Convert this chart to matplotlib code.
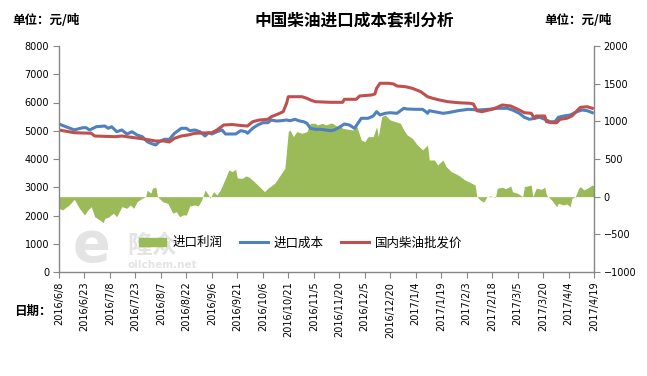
import matplotlib
matplotlib.use('Agg')
import matplotlib.pyplot as plt
import pandas as pd
from matplotlib.patches import Patch
from matplotlib.lines import Line2D

plt.rcParams['font.family'] = ['Noto Sans CJK SC', 'DejaVu Sans']

# 进口成本 (left axis, 元/吨)
cost_dates = ['2016-06-08', '2016-06-12', '2016-06-17', '2016-06-22', '2016-06-24', '2016-06-26',
              '2016-06-30', '2016-07-05', '2016-07-07', '2016-07-09', '2016-07-12', '2016-07-15',
              '2016-07-18', '2016-07-21', '2016-07-24', '2016-07-27', '2016-07-30', '2016-08-01',
              '2016-08-04', '2016-08-06', '2016-08-09', '2016-08-12', '2016-08-15', '2016-08-19',
              '2016-08-22', '2016-08-24', '2016-08-27', '2016-08-30', '2016-09-02', '2016-09-04',
              '2016-09-06', '2016-09-09', '2016-09-12', '2016-09-14', '2016-09-17', '2016-09-20',
              '2016-09-23', '2016-09-26', '2016-09-27', '2016-09-30', '2016-10-03', '2016-10-06',
              '2016-10-09', '2016-10-11', '2016-10-14', '2016-10-17', '2016-10-20', '2016-10-22',
              '2016-10-25', '2016-10-27', '2016-10-30', '2016-11-01', '2016-11-03', '2016-11-06',
              '2016-11-09', '2016-11-12', '2016-11-15', '2016-11-17', '2016-11-20', '2016-11-23',
              '2016-11-26', '2016-11-29', '2016-12-01', '2016-12-03', '2016-12-07', '2016-12-10',
              '2016-12-12', '2016-12-14', '2016-12-17', '2016-12-20', '2016-12-24', '2016-12-28',
              '2016-12-30', '2017-01-04', '2017-01-08', '2017-01-10', '2017-01-11', '2017-01-12',
              '2017-01-15', '2017-01-20', '2017-01-23', '2017-01-29', '2017-02-04', '2017-02-10',
              '2017-02-16', '2017-02-21', '2017-02-27', '2017-03-02', '2017-03-06', '2017-03-09',
              '2017-03-12', '2017-03-15', '2017-03-18', '2017-03-21', '2017-03-24', '2017-03-27',
              '2017-03-29', '2017-04-01', '2017-04-05', '2017-04-09', '2017-04-12', '2017-04-15',
              '2017-04-18']
cost_vals = [5239, 5143, 5030, 5108, 5108, 5027,
             5143, 5168, 5087, 5143, 4966, 5027,
             4885, 4966, 4850, 4790, 4612, 4556,
             4496, 4612, 4697, 4697, 4910, 5087,
             5087, 5002, 5027, 4966, 4814, 4931,
             4885, 4966, 5027, 4885, 4885, 4885,
             5002, 4966, 4910, 5087, 5204, 5285,
             5285, 5381, 5345, 5356, 5381, 5356,
             5405, 5356, 5320, 5264, 5087, 5051,
             5051, 5027, 5002, 5027, 5122, 5239,
             5204, 5087, 5264, 5441, 5441, 5522,
             5675, 5558, 5618, 5639, 5618, 5795,
             5770, 5759, 5759, 5675, 5618, 5710,
             5675, 5618, 5639, 5710, 5759, 5735,
             5759, 5795, 5795, 5735, 5618, 5476,
             5405, 5441, 5476, 5405, 5320, 5320,
             5476, 5522, 5558, 5675, 5735, 5710,
             5639]

# 国内柴油批发价 (left axis, 元/吨)
price_dates = ['2016-06-08', '2016-06-17', '2016-06-27', '2016-06-29', '2016-07-11', '2016-07-15',
               '2016-07-25', '2016-07-29', '2016-08-04', '2016-08-09', '2016-08-12', '2016-08-15',
               '2016-08-19', '2016-08-23', '2016-08-27', '2016-09-06', '2016-09-09', '2016-09-13',
               '2016-09-18', '2016-09-23', '2016-09-27', '2016-09-30', '2016-10-04', '2016-10-09',
               '2016-10-11', '2016-10-15', '2016-10-18', '2016-10-20', '2016-10-21', '2016-10-24',
               '2016-10-29', '2016-11-01', '2016-11-03', '2016-11-06', '2016-11-15', '2016-11-22',
               '2016-11-23', '2016-11-30', '2016-12-02', '2016-12-09', '2016-12-11', '2016-12-12',
               '2016-12-14', '2016-12-19', '2016-12-22', '2016-12-24', '2016-12-29', '2017-01-02',
               '2017-01-07', '2017-01-11', '2017-01-14', '2017-01-18', '2017-01-23', '2017-01-29',
               '2017-02-05', '2017-02-07', '2017-02-09', '2017-02-12', '2017-02-18', '2017-02-21',
               '2017-02-24', '2017-03-01', '2017-03-06', '2017-03-09', '2017-03-13', '2017-03-15',
               '2017-03-16', '2017-03-21', '2017-03-22', '2017-03-25', '2017-03-28', '2017-03-30',
               '2017-04-03', '2017-04-06', '2017-04-09', '2017-04-11', '2017-04-15', '2017-04-18']
price_vals = [5027, 4931, 4910, 4814, 4790, 4814,
              4733, 4697, 4637, 4637, 4602, 4733,
              4814, 4850, 4910, 4931, 5027, 5204,
              5221, 5186, 5168, 5320, 5381, 5405,
              5497, 5593, 5675, 5972, 6205, 6205,
              6205, 6149, 6089, 6028, 6007, 6007,
              6113, 6113, 6230, 6266, 6301, 6503,
              6680, 6680, 6655, 6584, 6559, 6503,
              6383, 6205, 6149, 6089, 6028, 5993,
              5972, 5947, 5710, 5675, 5759, 5830,
              5912, 5876, 5735, 5639, 5618, 5441,
              5522, 5522, 5320, 5285, 5285, 5405,
              5441, 5522, 5710, 5830, 5851, 5795]

# 进口利润 (right axis, 元/吨)
profit_dates = ['2016-06-08', '2016-06-10', '2016-06-14', '2016-06-17', '2016-06-20', '2016-06-23',
                '2016-06-25', '2016-06-27', '2016-06-29', '2016-07-02', '2016-07-04', '2016-07-05',
                '2016-07-07', '2016-07-10', '2016-07-12', '2016-07-15', '2016-07-18', '2016-07-20',
                '2016-07-22', '2016-07-24', '2016-07-27', '2016-07-29', '2016-07-30', '2016-08-01',
                '2016-08-02', '2016-08-04', '2016-08-05', '2016-08-08', '2016-08-11', '2016-08-14',
                '2016-08-16', '2016-08-18', '2016-08-20', '2016-08-22', '2016-08-24', '2016-08-27',
                '2016-08-29', '2016-08-31', '2016-09-02', '2016-09-04', '2016-09-05', '2016-09-07',
                '2016-09-09', '2016-09-11', '2016-09-14', '2016-09-16', '2016-09-18', '2016-09-20',
                '2016-09-21', '2016-09-24', '2016-09-26', '2016-09-28', '2016-10-01', '2016-10-04',
                '2016-10-07', '2016-10-09', '2016-10-13', '2016-10-17', '2016-10-19', '2016-10-21',
                '2016-10-22', '2016-10-24', '2016-10-26', '2016-10-29', '2016-11-01', '2016-11-03',
                '2016-11-06', '2016-11-07', '2016-11-10', '2016-11-12', '2016-11-15', '2016-11-16',
                '2016-11-19', '2016-11-20', '2016-11-22', '2016-11-25', '2016-11-28', '2016-11-30',
                '2016-12-03', '2016-12-05', '2016-12-07', '2016-12-10', '2016-12-12', '2016-12-13',
                '2016-12-15', '2016-12-17', '2016-12-20', '2016-12-23', '2016-12-26', '2016-12-28',
                '2016-12-30', '2017-01-02', '2017-01-05', '2017-01-07', '2017-01-08', '2017-01-10',
                '2017-01-11', '2017-01-12', '2017-01-15', '2017-01-17', '2017-01-20', '2017-01-22',
                '2017-01-25', '2017-01-29', '2017-02-02', '2017-02-06', '2017-02-08', '2017-02-09',
                '2017-02-11', '2017-02-13', '2017-02-15', '2017-02-17', '2017-02-20', '2017-02-21',
                '2017-02-24', '2017-02-26', '2017-03-01', '2017-03-02', '2017-03-05', '2017-03-08',
                '2017-03-09', '2017-03-11', '2017-03-13', '2017-03-14', '2017-03-16', '2017-03-19',
                '2017-03-21', '2017-03-22', '2017-03-23', '2017-03-25', '2017-03-28', '2017-03-29',
                '2017-04-01', '2017-04-03', '2017-04-05', '2017-04-06', '2017-04-08', '2017-04-10',
                '2017-04-11', '2017-04-13', '2017-04-15', '2017-04-18', '2017-04-19']
profit_vals = [-154, -177, -110, -35, -154, -243,
               -177, -133, -266, -309, -345, -287,
               -273, -220, -266, -133, -154, -110,
               -154, -66, -21, 0, 89, 45,
               112, 125, 0, -66, -88, -220,
               -199, -266, -243, -243, -123, -110,
               -123, -44, 89, 23, -21, 66,
               23, 89, 244, 354, 332, 364,
               248, 244, 275, 258, 199, 133,
               66, 112, 178, 311, 377, 863,
               885, 797, 863, 842, 863, 974,
               974, 952, 974, 952, 976, 974,
               929, 952, 908, 895, 885, 952,
               752, 730, 797, 797, 929, 797,
               1062, 1085, 1018, 996, 974, 885,
               819, 775, 686, 646, 620, 664,
               686, 487, 487, 420, 487, 398,
               332, 288, 222, 178, 155, 0,
               -44, -74, 0, 9, -8, 112,
               125, 105, 142, 66, 45, 0,
               133, 142, 155, 0, 112, 98,
               125, 23, 0, -44, -133, -88,
               -110, -97, -133, -21, 0, 112,
               133, 89, 112, 155, 142]

x_start = pd.Timestamp('2016-06-08')
x_end = pd.Timestamp('2017-04-19')
tick_dates = pd.date_range(x_start, x_end, freq='15D')
tick_labels = [f'{d.year}/{d.month}/{d.day}' for d in tick_dates]

green = '#9BBB59'
blue = '#4F81BD'
red = '#C0504D'
grey = '#868686'

fig = plt.figure(figsize=(6.47, 3.76), dpi=100)
ax = fig.add_axes([59 / 647, 1 - 272 / 376, 535 / 647, 226 / 376])
ax2 = ax.twinx()
ax.set_zorder(ax2.get_zorder() + 1)
ax.patch.set_visible(False)
ax2.patch.set_visible(False)

# oilchem watermark, behind everything
wm = '#e4e4e4'
fig.text(0.141, 0.345, 'e', fontsize=40, fontweight='bold', color=wm,
         family='DejaVu Sans', ha='center', va='center', zorder=-5)
fig.text(0.235, 0.345, '隆众', fontsize=18, fontweight='bold', color=wm,
         ha='center', va='center', zorder=-5)
fig.text(0.251, 0.296, 'oilchem.net', fontsize=7.5, fontweight='bold', color=wm,
         family='DejaVu Sans', ha='center', va='center', zorder=-5)

ax2.fill_between(pd.to_datetime(profit_dates), profit_vals, 0, color=green, lw=0)
ax.plot(pd.to_datetime(cost_dates), cost_vals, color=blue, lw=2.2)
ax.plot(pd.to_datetime(price_dates), price_vals, color=red, lw=2.2)

ax.set_xlim(x_start, x_end)
ax.set_ylim(0, 8000)
ax.set_yticks(range(0, 8001, 1000))
ax2.set_ylim(-1000, 2000)
ax2.set_yticks(range(-1000, 2001, 500))
ax.set_xticks(tick_dates)
ax.set_xticklabels(tick_labels, rotation=90, fontsize=7, family='DejaVu Sans')
for lab in ax.get_yticklabels() + ax2.get_yticklabels():
    lab.set_family('DejaVu Sans')
    lab.set_fontsize(7)

for a in (ax, ax2):
    for s in a.spines.values():
        s.set_visible(False)
    a.tick_params(colors=grey, labelcolor='black', length=4, width=0.8, pad=3)
ax.spines['left'].set_visible(True)
ax.spines['bottom'].set_visible(True)
ax2.spines['right'].set_visible(True)
for s in (ax.spines['left'], ax.spines['bottom'], ax2.spines['right']):
    s.set_color(grey)
    s.set_linewidth(1)

handles = [Patch(color=green), Line2D([], [], color=blue, lw=2.2), Line2D([], [], color=red, lw=2.2)]
fig.legend(handles, ['进口利润', '进口成本', '国内柴油批发价'], ncol=3, frameon=False,
           loc='center', bbox_to_anchor=(0.465, 0.354), fontsize=9,
           handlelength=2.2, handletextpad=0.5, columnspacing=1.4)

fig.text(0.547, 0.945, '中国柴油进口成本套利分析', fontsize=12, fontweight='bold',
         ha='center', va='center')
fig.text(0.019, 0.945, '单位：元/吨', fontsize=9, fontweight='bold', ha='left', va='center')
fig.text(0.842, 0.945, '单位：元/吨', fontsize=9, fontweight='bold', ha='left', va='center')
fig.text(0.022, 0.172, '日期：', fontsize=9, fontweight='bold', ha='left', va='center')

fig.savefig('out.png', dpi=100)
